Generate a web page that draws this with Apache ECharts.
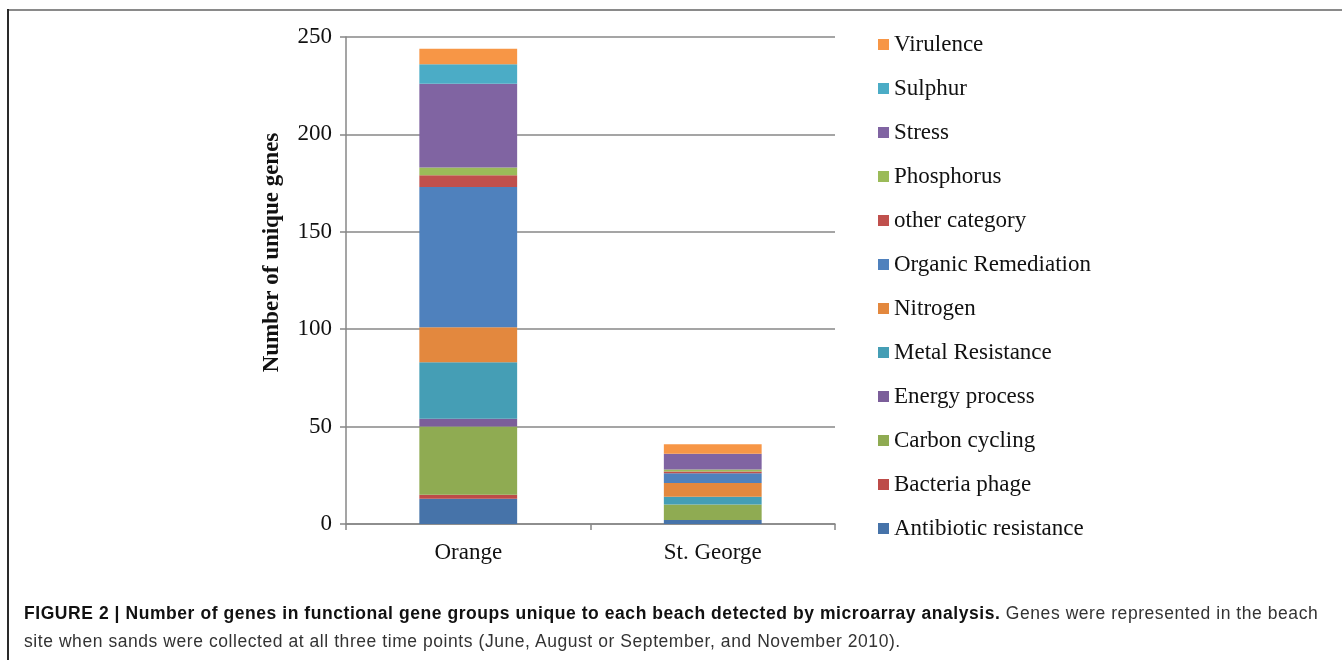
<!DOCTYPE html>
<html>
<head>
<meta charset="utf-8">
<script src="https://cdn.jsdelivr.net/npm/echarts@6/dist/echarts.min.js"></script>
<style>
  html, body { margin: 0; padding: 0; background: #fff; }
  #wrap { position: relative; width: 1342px; height: 660px; overflow: hidden; }
  #chart { position: absolute; left: 0; top: 0; width: 1342px; height: 660px; }
  #frame-top { position: absolute; left: 8px; top: 9px; width: 1334px; height: 2px; background: #8a8a8a; }
  #frame-left { position: absolute; left: 7px; top: 9px; width: 2px; height: 651px; background: #2a2a2a; }
  #caption { position: absolute; left: 24px; top: 599px; width: 1318px; white-space: nowrap;
    font-family: 'Liberation Sans', Arial, sans-serif; font-size: 17.5px; letter-spacing: 0.56px;
    line-height: 28px; color: #333; }
  #caption b { color: #111; }
</style>
</head>
<body>
<div id="wrap">
  <div id="chart"></div>
  <div id="frame-top"></div>
  <div id="frame-left"></div>
  <div id="caption"><b>FIGURE 2 | Number of genes in functional gene groups unique to each beach detected by microarray analysis.</b> Genes were represented in the beach<br>site when sands were collected at all three time points (June, August or September, and November 2010).</div>
</div>
<script>
// 两个海滩各功能基因组的独有基因数（堆叠柱）
const beaches = ['Orange', 'St. George'];

// 从下往上的堆叠顺序
const groups = [
  'Antibiotic resistance', 'Bacteria phage', 'Carbon cycling', 'Energy process',
  'Metal Resistance', 'Nitrogen', 'Organic Remediation', 'other category',
  'Phosphorus', 'Stress', 'Sulphur', 'Virulence',
];

// 每组对应 [Orange, St. George]
const antibiotic = [13, 2];
const phage      = [2, 0];
const carbon     = [35, 8];
const energy     = [4, 0];
const metal      = [29, 4];
const nitrogen   = [18, 7];
const organic    = [72, 5];
const other      = [6, 1];
const phosphorus = [4, 1];
const stress     = [43, 8];
const sulphur    = [10, 0];
const virulence  = [8, 5];

const values = [antibiotic, phage, carbon, energy, metal, nitrogen, organic,
  other, phosphorus, stress, sulphur, virulence];

const yTicks = [0, 50, 100, 150, 200, 250];

// Excel 2010 风格配色
const COLORS = [
  '#4673a9', '#bd4b48', '#8fab52', '#7b5e9a', '#459eb5', '#e3883e',
  '#4f81bd', '#c0504d', '#9bbb59', '#8064a2', '#4bacc6', '#f79646',
];

const SERIF = "'Liberation Serif', 'Times New Roman', serif";
const GRAY = '#878787';

const chart = echarts.init(document.getElementById('chart'), null, { renderer: 'canvas' });

chart.setOption({
  animation: false,
  grid: { left: 346, right: 507, top: 37, bottom: 136, containLabel: false },
  legend: {
    orient: 'vertical',
    left: 873,
    top: 28,
    icon: 'rect',
    itemWidth: 11,
    itemHeight: 11,
    itemGap: 21,
    data: [...groups].reverse(),
    textStyle: { fontFamily: SERIF, fontSize: 23, color: '#111', lineHeight: 22 },
  },
  xAxis: {
    type: 'category',
    data: beaches,
    axisLine: { lineStyle: { color: GRAY, width: 1.5 } },
    axisTick: { show: true, length: 6, lineStyle: { color: GRAY, width: 1.5 } },
    axisLabel: { fontFamily: SERIF, fontSize: 23, color: '#111', margin: 17 },
  },
  yAxis: {
    type: 'value',
    min: yTicks[0],
    max: yTicks[yTicks.length - 1],
    interval: yTicks[1] - yTicks[0],
    name: 'Number of unique genes',
    nameLocation: 'middle',
    nameGap: 62,
    nameTextStyle: { fontFamily: SERIF, fontSize: 23, fontWeight: 'bold', color: '#111', padding: [0, 0, 0, 56] },
    axisLine: { show: true, lineStyle: { color: GRAY, width: 1.5 } },
    axisTick: { show: true, length: 6, lineStyle: { color: GRAY, width: 1.5 } },
    axisLabel: { fontFamily: SERIF, fontSize: 23, color: '#111', margin: 14 },
    splitLine: { lineStyle: { color: GRAY, width: 1.5 } },
  },
  series: groups.map((g, i) => ({
    name: g,
    type: 'bar',
    stack: 'total',
    barWidth: '40%',
    color: COLORS[i],
    data: values[i],
  })),
});
</script>
</body>
</html>
